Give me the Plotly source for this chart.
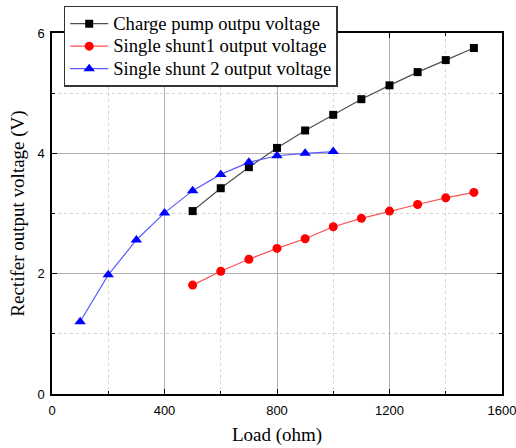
import plotly.graph_objects as go

load_cp = [500, 600, 700, 800, 900, 1000, 1100, 1200, 1300, 1400, 1500]
v_cp = [3.04, 3.42, 3.77, 4.09, 4.38, 4.64, 4.90, 5.13, 5.35, 5.55, 5.75]

load_s1 = [500, 600, 700, 800, 900, 1000, 1100, 1200, 1300, 1400, 1500]
v_s1 = [1.81, 2.04, 2.24, 2.42, 2.58, 2.78, 2.92, 3.04, 3.15, 3.26, 3.35]

load_s2 = [100, 200, 300, 400, 500, 600, 700, 800, 900, 1000]
v_s2 = [1.20, 1.98, 2.56, 3.01, 3.38, 3.65, 3.85, 3.96, 4.00, 4.03]

names = ["Charge pump outpu voltage", "Single shunt1 output voltage", "Single shunt 2 output voltage"]


def big(s):
    return '<span style="font-size:18.6px">' + s + '</span>'


fig = go.Figure()
fig.add_trace(go.Scatter(x=load_cp, y=v_cp, name=big(names[0]), mode="lines+markers",
                         line=dict(color="#505050", width=1.2),
                         marker=dict(symbol="square", size=8, color="#000000")))
fig.add_trace(go.Scatter(x=load_s1, y=v_s1, name=big(names[1]), mode="lines+markers",
                         line=dict(color="#ff5050", width=1.2),
                         marker=dict(symbol="circle", size=9, color="#ff0000")))
fig.add_trace(go.Scatter(x=load_s2, y=v_s2, name=big(names[2]), mode="lines+markers",
                         line=dict(color="#5a5aff", width=1.2),
                         marker=dict(symbol="triangle-up", size=10, color="#0000ff")))

axis_common = dict(
    showline=True, linecolor="black", linewidth=1.5, mirror="allticks",
    ticks="inside", ticklen=5, tickcolor="black", tickwidth=1.2,
    showgrid=True, gridcolor="#b0b0b0", gridwidth=1,
    zeroline=False,
    tickfont=dict(family="Liberation Sans, Arial", size=13, color="black"),
    title_font=dict(family="Liberation Serif, Times New Roman", size=19, color="black"),
    ticklabeloverflow="allow",
)

fig.update_xaxes(range=[0, 1600], tickmode="linear", tick0=0, dtick=400,
                 minor=dict(dtick=200, ticks="inside", ticklen=3, tickcolor="black",
                            showgrid=True, gridcolor="#d4d4d4", griddash="dot"),
                 ticklabelstandoff=4,
                 title_text="Load (ohm)", title_standoff=10, **axis_common)
fig.update_yaxes(range=[0, 6], tickmode="linear", tick0=0, dtick=2,
                 minor=dict(dtick=1, ticks="inside", ticklen=3, tickcolor="black",
                            showgrid=True, gridcolor="#d4d4d4", griddash="dot"),
                 ticklabelstandoff=3,
                 title_text="Rectifer output voltage (V)", title_standoff=8, **axis_common)

fig.update_layout(
    width=516, height=448,
    margin=dict(l=52, r=14, t=33, b=54, autoexpand=False),
    paper_bgcolor="white", plot_bgcolor="white",
    showlegend=True,
    legend=dict(x=0.026, y=1.075, xanchor="left", yanchor="top",
                bgcolor="white", bordercolor="#333333", borderwidth=1.5,
                font=dict(family="Liberation Serif, Times New Roman", size=15, color="black"),
                tracegroupgap=0, itemwidth=38),
)

fig.write_html("out.html")
